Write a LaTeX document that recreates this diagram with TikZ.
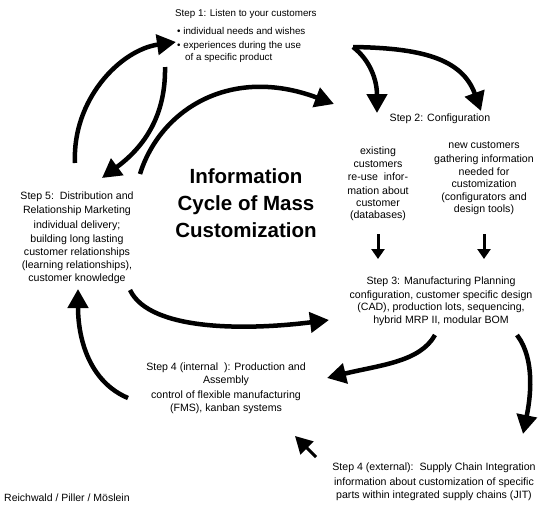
\documentclass[tikz,border=0pt]{standalone}
\usepackage{fontspec}
\setmainfont{Liberation Sans}
\usetikzlibrary{arrows.meta}
\begin{document}
\begin{tikzpicture}[x=1pt,y=-1pt,
  txt/.style={inner sep=0pt,align=center,anchor=north,font=\fontsize{10.6}{13.5}\selectfont},
  bigarrow/.style={line width=4.5pt,-{Triangle[length=19pt,width=20pt]}},
  smallarrow/.style={line width=3pt,-{Triangle[length=10pt,width=13pt]}},
  title/.style={inner sep=0pt,align=center,anchor=north,font=\fontsize{20.5}{27}\selectfont\bfseries}]
\fill[white] (0,0) rectangle (541,509);
\useasboundingbox (0,0) rectangle (541,509);

% Step texts
\node[txt,align=left,anchor=north west,font=\fontsize{9.8}{13.5}\selectfont] (s1) at (175,9) {Step 1: Listen to your customers\\[5pt]
\hspace*{2pt}\textbullet\ individual needs and wishes\\[0.5pt]
\hspace*{2pt}\textbullet\ experiences during the use\\[-1.5pt]
\hspace*{10pt}of a specific product};
\node[txt] (s2) at (440,114) {Step 2: Configuration};
\node[txt] (s2a) at (378,147) {existing\\[-1pt] customers\\ re-use\ \ infor-\\ mation about\\[-1pt] customer\\[-2pt] (databases)};
\node[txt] (s2b) at (484,141) {new customers\\[1pt] gathering information\\[-1pt] needed for\\[-1pt] customization\\[-1pt] (configurators and\\[-1pt] design tools)};
\node[txt] (s3) at (441,277) {Step 3: Manufacturing Planning\\ configuration, customer specific design\\[-1pt] (CAD), production lots, sequencing,\\[-1pt] hybrid MRP II, modular BOM};
\node[txt] (s4i) at (226,363) {Step 4 (internal\ \ ): Production and\\[-1pt] Assembly\\[2pt] control of flexible manufacturing\\[-1pt] (FMS), kanban systems};
\node[txt] (s4e) at (434,463) {Step 4 (external):\ \ Supply Chain Integration\\[1pt] information about customization of specific\\[-0.5pt] parts within integrated supply chains (JIT)};
\node[txt] (s5) at (77,192) {Step 5:\ \ Distribution and\\ Relationship Marketing\\[1.5pt] individual delivery;\\[0.5pt] building long lasting\\ customer relationships\\[-0.5pt] (learning relationships),\\[-0.5pt] customer knowledge};
\node[title] (t) at (246,168) {Information\\ Cycle of Mass\\ Customization};
\node[inner sep=0pt,anchor=west,font=\fontsize{10.5}{12}\selectfont] (cr) at (4,498) {Reichwald / Piller / Möslein};

% arrow end points
\coordinate (a1s) at (75,163);  \coordinate (a1e) at (176,42);
\coordinate (a2s) at (165,67);  \coordinate (a2e) at (102,178);
\coordinate (a3s) at (140,174); \coordinate (a3e) at (334,104);
\coordinate (a4s) at (353,47);  \coordinate (a4e) at (377,113);
\coordinate (a5e) at (481,111);
\coordinate (a6s) at (378,234); \coordinate (a6e) at (378,259);
\coordinate (a7s) at (484,234); \coordinate (a7e) at (484,259);
\coordinate (a8s) at (130,290); \coordinate (a8e) at (329,320);
\coordinate (a9s) at (435,335); \coordinate (a9e) at (327,378);
\coordinate (a10s) at (517,335); \coordinate (a10e) at (523,434);
\coordinate (a11s) at (316,457); \coordinate (a11e) at (295,436);
\coordinate (a12s) at (128,398); \coordinate (a12e) at (78,289);

\draw[bigarrow] (a1s) .. controls (72,100) and (120,50) .. (a1e);
\draw[bigarrow] (a2s) .. controls (166,120) and (140,150) .. (a2e);
\draw[bigarrow] (a3s) .. controls (160,110) and (230,65) .. (a3e);
\draw[bigarrow] (a4s) .. controls (370,60) and (377,80) .. (a4e);
\draw[bigarrow] (a4s) .. controls (420,48) and (462,58) .. (a5e);
\draw[smallarrow] (a6s) -- (a6e);
\draw[smallarrow] (a7s) -- (a7e);
\draw[bigarrow] (a8s) .. controls (150,332) and (250,330) .. (a8e);
\draw[bigarrow] (a9s) .. controls (420,362) and (380,365) .. (a9e);
\draw[bigarrow] (a10s) .. controls (536,360) and (530,400) .. (a10e);
\draw[line width=3pt,-{Triangle[length=17pt,width=18pt]}] (a11s) -- (a11e);
\draw[bigarrow] (a12s) .. controls (90,382) and (78,340) .. (a12e);
\end{tikzpicture}
\end{document}
